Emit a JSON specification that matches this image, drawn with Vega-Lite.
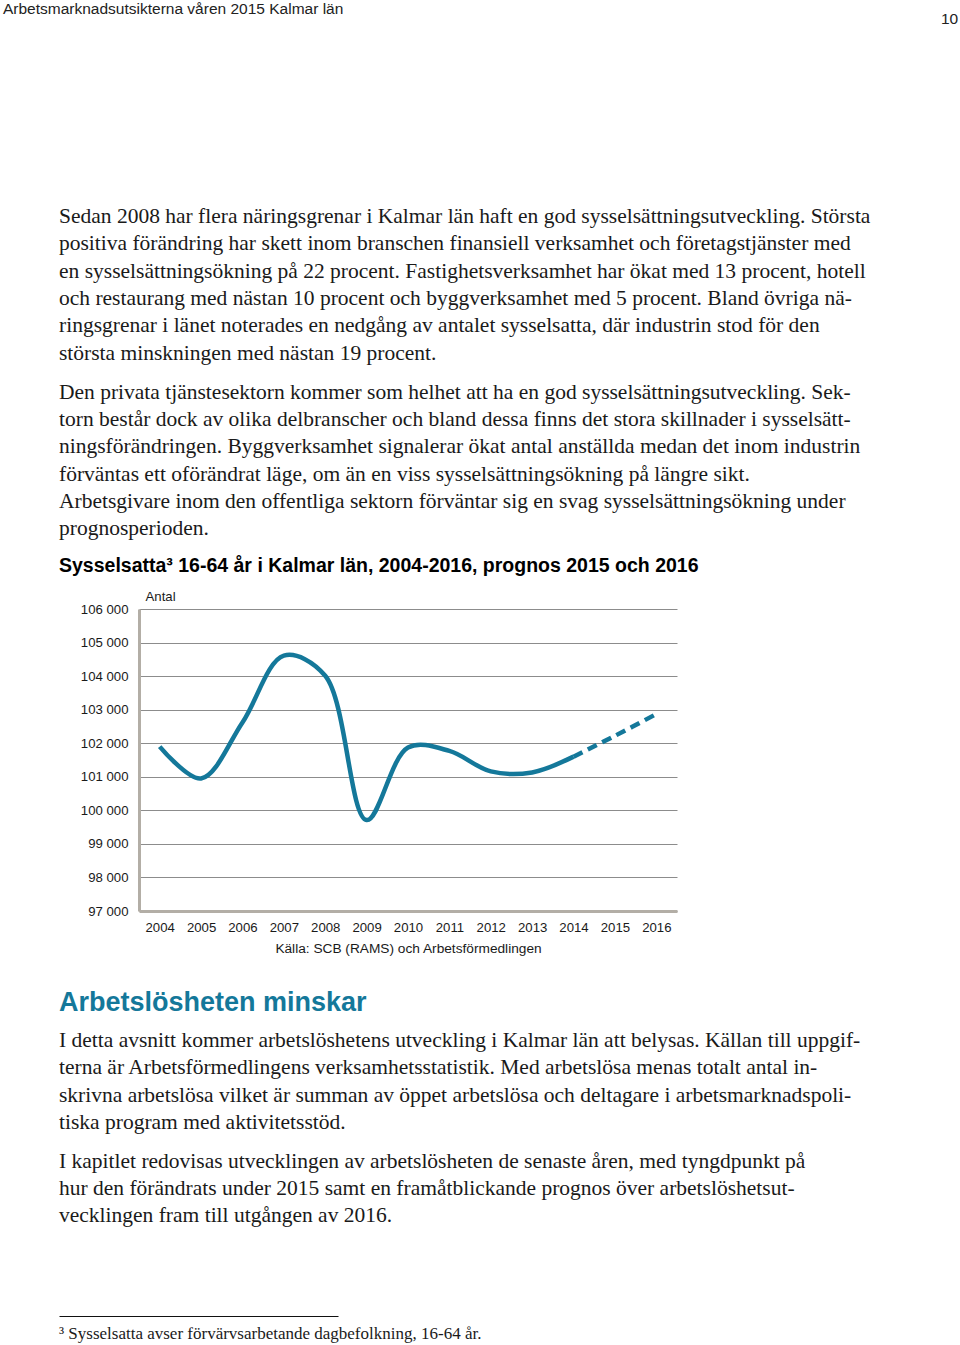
{
  "$schema": "https://vega.github.io/schema/vega-lite/v6.json",
  "background": "white",
  "padding": {"left": 3, "top": 0, "right": 0, "bottom": 0},
  "bounds": "flush",
  "spacing": 0,
  "config": {
    "view": {"stroke": null},
    "locale": {"number": {"decimal": ",", "thousands": " ", "grouping": [3], "currency": ["", " kr"]}}
  },
  "vconcat": [
    {
      "width": 538, "height": 200,
      "data": {"values": [
        {"pos": "a", "text": "Arbetsmarknadsutsikterna våren 2015 Kalmar län"},
        {"pos": "b", "text": "10"}
      ]},
      "mark": {"type": "text", "align": "left", "baseline": "alphabetic", "font": "Liberation Sans", "fontSize": 15.5, "color": "#222222"},
      "encoding": {
        "x": {"field": "pos", "type": "nominal", "scale": {"type": "point", "padding": 0, "range": [-136, 802]}, "axis": null},
        "y": {"field": "pos", "type": "nominal", "scale": {"type": "point", "padding": 0, "range": [13.5, 23.5]}, "axis": null},
        "text": {"field": "text"}
      }
    },
    {
      "width": 538, "height": 180,
      "data": {"values": [
        {"line": 1, "text": "Sedan 2008 har flera näringsgrenar i Kalmar län haft en god sysselsättningsutveckling. Största"},
        {"line": 2, "text": "positiva förändring har skett inom branschen finansiell verksamhet och företagstjänster med"},
        {"line": 3, "text": "en sysselsättningsökning på 22 procent. Fastighetsverksamhet har ökat med 13 procent, hotell"},
        {"line": 4, "text": "och restaurang med nästan 10 procent och byggverksamhet med 5 procent. Bland övriga nä-"},
        {"line": 5, "text": "ringsgrenar i länet noterades en nedgång av antalet sysselsatta, där industrin stod för den"},
        {"line": 6, "text": "största minskningen med nästan 19 procent."}
      ]},
      "mark": {"type": "text", "align": "left", "baseline": "alphabetic", "font": "Liberation Serif", "fontSize": 21.5, "color": "#1a1a1a"},
      "encoding": {
        "x": {"datum": 0, "type": "quantitative", "scale": {"domain": [0, 1], "range": [-80, 458]}, "axis": null},
        "y": {"field": "line", "type": "ordinal", "scale": {"type": "point", "padding": 0, "range": [23, 159.75]}, "axis": null},
        "text": {"field": "text"}
      }
    },
    {
      "width": 538, "height": 229,
      "data": {"values": [
        {"line": 1, "text": "Den privata tjänstesektorn kommer som helhet att ha en god sysselsättningsutveckling. Sek-"},
        {"line": 2, "text": "torn består dock av olika delbranscher och bland dessa finns det stora skillnader i sysselsätt-"},
        {"line": 3, "text": "ningsförändringen. Byggverksamhet signalerar ökat antal anställda medan det inom industrin"},
        {"line": 4, "text": "förväntas ett oförändrat läge, om än en viss sysselsättningsökning på längre sikt."},
        {"line": 5, "text": "Arbetsgivare inom den offentliga sektorn förväntar sig en svag sysselsättningsökning under"},
        {"line": 6, "text": "prognosperioden."}
      ]},
      "mark": {"type": "text", "align": "left", "baseline": "alphabetic", "font": "Liberation Serif", "fontSize": 21.5, "color": "#1a1a1a"},
      "encoding": {
        "x": {"datum": 0, "type": "quantitative", "scale": {"domain": [0, 1], "range": [-80, 458]}, "axis": null},
        "y": {"field": "line", "type": "ordinal", "scale": {"type": "point", "padding": 0, "range": [19, 155]}, "axis": null},
        "text": {"field": "text"}
      }
    },
    {
      "width": 538, "height": 302,
      "title": {
        "text": "Sysselsatta³ 16-64 år i Kalmar län, 2004-2016, prognos 2015 och 2016",
        "anchor": "start", "frame": "group", "dx": -80, "offset": -2,
        "baseline": "alphabetic",
        "font": "Liberation Sans", "fontSize": 19.5, "fontWeight": "bold", "color": "#000000"
      },
      "data": {"values": [
        {"year": 2004, "antal": 101900},
        {"year": 2005, "antal": 100950},
        {"year": 2006, "antal": 102620},
        {"year": 2007, "antal": 104610},
        {"year": 2008, "antal": 104010},
        {"year": 2009, "antal": 99710},
        {"year": 2010, "antal": 101870},
        {"year": 2011, "antal": 101770},
        {"year": 2012, "antal": 101160},
        {"year": 2013, "antal": 101130},
        {"year": 2014, "antal": 101600},
        {"year": 2015, "antal": 102220},
        {"year": 2016, "antal": 102870}
      ]},
      "encoding": {
        "x": {
          "field": "year", "type": "ordinal",
          "scale": {"type": "point", "padding": 0.5},
          "axis": {
            "title": "Källa: SCB (RAMS) och Arbetsförmedlingen",
            "titleFont": "Liberation Sans", "titleFontSize": 13.7, "titleFontWeight": "normal", "titleColor": "#1a1a1a", "titlePadding": 8,
            "labelFont": "Liberation Sans", "labelFontSize": 13.2, "labelColor": "#1a1a1a", "labelAngle": 0, "labelPadding": 10,
            "ticks": false, "tickSize": 0,
            "domainColor": "#b3aea6", "domainWidth": 3,
            "grid": false
          }
        },
        "y": {
          "field": "antal", "type": "quantitative",
          "scale": {"domain": [97000, 106000], "nice": false, "zero": false},
          "axis": {
            "title": "Antal", "titleAngle": 0, "titleAlign": "left", "titleBaseline": "middle", "titleX": 6, "titleY": -13,
            "titleFont": "Liberation Sans", "titleFontSize": 13.2, "titleFontWeight": "normal", "titleColor": "#1a1a1a",
            "values": [97000, 98000, 99000, 100000, 101000, 102000, 103000, 104000, 105000, 106000],
            "format": ",d",
            "labelFont": "Liberation Sans", "labelFontSize": 13.2, "labelColor": "#1a1a1a", "labelPadding": 11,
            "ticks": false, "tickSize": 0,
            "domainColor": "#b3aea6", "domainWidth": 3,
            "grid": true, "gridColor": "#8c8c8c", "gridWidth": 1
          }
        }
      },
      "layer": [
        {
          "transform": [{"filter": "datum.year <= 2014"}],
          "mark": {"type": "line", "interpolate": "catmull-rom", "color": "#14789a", "strokeWidth": 4.5, "strokeCap": "butt"}
        },
        {
          "transform": [{"filter": "datum.year >= 2014"}],
          "mark": {"type": "line", "interpolate": "catmull-rom", "color": "#14789a", "strokeWidth": 4.5, "strokeDash": [10, 6], "strokeCap": "butt"}
        }
      ]
    },
    {
      "width": 538, "height": 113,
      "data": {"values": [{"line": 1, "text": "Arbetslösheten minskar"}]},
      "mark": {"type": "text", "align": "left", "baseline": "alphabetic", "font": "Liberation Sans", "fontSize": 27, "fontWeight": "bold", "color": "#14789a"},
      "encoding": {
        "x": {"datum": 0, "type": "quantitative", "scale": {"domain": [0, 1], "range": [-80, 458]}, "axis": null},
        "y": {"field": "line", "type": "ordinal", "scale": {"type": "point", "padding": 0, "range": [100, 100]}, "axis": null},
        "text": {"field": "text"}
      }
    },
    {
      "width": 538, "height": 122,
      "data": {"values": [
        {"line": 1, "text": "I detta avsnitt kommer arbetslöshetens utveckling i Kalmar län att belysas. Källan till uppgif-"},
        {"line": 2, "text": "terna är Arbetsförmedlingens verksamhetsstatistik. Med arbetslösa menas totalt antal in-"},
        {"line": 3, "text": "skrivna arbetslösa vilket är summan av öppet arbetslösa och deltagare i arbetsmarknadspoli-"},
        {"line": 4, "text": "tiska program med aktivitetsstöd."}
      ]},
      "mark": {"type": "text", "align": "left", "baseline": "alphabetic", "font": "Liberation Serif", "fontSize": 21.5, "color": "#1a1a1a"},
      "encoding": {
        "x": {"datum": 0, "type": "quantitative", "scale": {"domain": [0, 1], "range": [-80, 458]}, "axis": null},
        "y": {"field": "line", "type": "ordinal", "scale": {"type": "point", "padding": 0, "range": [23, 105]}, "axis": null},
        "text": {"field": "text"}
      }
    },
    {
      "width": 538, "height": 170,
      "data": {"values": [
        {"line": 1, "text": "I kapitlet redovisas utvecklingen av arbetslösheten de senaste åren, med tyngdpunkt på"},
        {"line": 2, "text": "hur den förändrats under 2015 samt en framåtblickande prognos över arbetslöshetsut-"},
        {"line": 3, "text": "vecklingen fram till utgången av 2016."}
      ]},
      "mark": {"type": "text", "align": "left", "baseline": "alphabetic", "font": "Liberation Serif", "fontSize": 21.5, "color": "#1a1a1a"},
      "encoding": {
        "x": {"datum": 0, "type": "quantitative", "scale": {"domain": [0, 1], "range": [-80, 458]}, "axis": null},
        "y": {"field": "line", "type": "ordinal", "scale": {"type": "point", "padding": 0, "range": [22, 76]}, "axis": null},
        "text": {"field": "text"}
      }
    },
    {
      "width": 538, "height": 29,
      "data": {"values": [{"line": 1, "text": "³ Sysselsatta avser förvärvsarbetande dagbefolkning, 16-64 år."}]},
      "mark": {"type": "text", "align": "left", "baseline": "alphabetic", "font": "Liberation Serif", "fontSize": 17, "color": "#1a1a1a"},
      "encoding": {
        "x": {"datum": 0, "type": "quantitative", "scale": {"domain": [0, 1], "range": [-80, 199], "nice": false},
          "axis": {"orient": "top", "title": null, "labels": false, "ticks": false, "grid": false, "domain": true, "domainColor": "#111111", "domainWidth": 1.2}},
        "y": {"field": "line", "type": "ordinal", "scale": {"type": "point", "padding": 0, "range": [23, 23]}, "axis": null},
        "text": {"field": "text"}
      }
    }
  ]
}
